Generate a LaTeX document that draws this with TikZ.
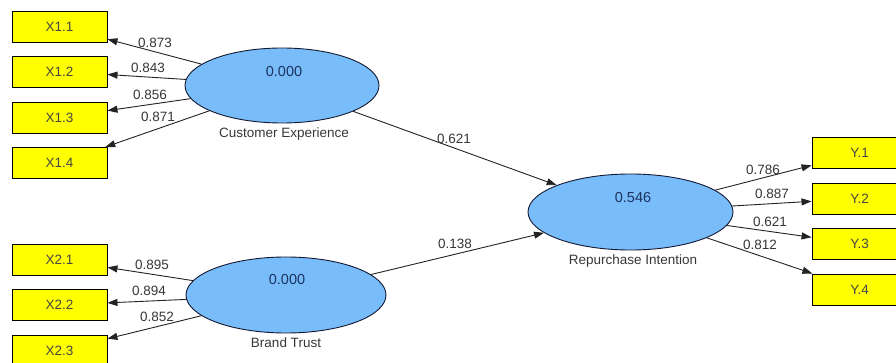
\documentclass[tikz,border=0pt]{standalone}
\usepackage{fontspec}
\setmainfont{Liberation Sans}
\usetikzlibrary{arrows.meta,shapes.geometric}
\definecolor{lvfill}{RGB}{120,189,250}
\definecolor{mvfill}{RGB}{255,255,0}
\definecolor{txtgray}{RGB}{55,55,55}
\definecolor{boxtxt}{RGB}{70,70,70}
\definecolor{valblue}{RGB}{30,50,95}
\definecolor{linegray}{RGB}{35,35,35}
\definecolor{lvborder}{RGB}{20,25,50}
\begin{document}
\begin{tikzpicture}[x=1pt,y=-1pt,
 mv/.style={draw=black, line width=0.9pt, fill=mvfill, minimum width=95pt, minimum height=31pt, inner sep=0pt, font=\fontsize{13.5}{15}\selectfont, text=boxtxt},
 lv/.style={ellipse, draw=lvborder, line width=0.9pt, fill=lvfill, inner sep=0pt},
 val/.style={font=\fontsize{14.5}{16}\selectfont, text=valblue, inner sep=0pt},
 lvname/.style={font=\fontsize{13.5}{15}\selectfont, text=txtgray, inner sep=0pt},
 ld/.style={font=\fontsize{13.5}{15}\selectfont, text=txtgray, inner sep=0pt},
 arr/.style={draw=linegray, line width=0.9pt, -{Triangle[length=10pt,width=7pt]}},
]
\useasboundingbox (0,0) rectangle (896,363);
\clip (0,0) rectangle (896,363);
\fill[white] (0,0) rectangle (896,363);

% indicator boxes
\node[mv] (x11) at (59.5,26.5) {X1.1};
\node[mv] (x12) at (59.5,71.5) {X1.2};
\node[mv] (x13) at (59.5,117.5) {X1.3};
\node[mv] (x14) at (59.5,163) {X1.4};
\node[mv] (x21) at (59.5,260) {X2.1};
\node[mv] (x22) at (59.5,305) {X2.2};
\node[mv] (x23) at (59.5,350.5) {X2.3};
\node[mv] (y1) at (859.5,153) {Y.1};
\node[mv] (y2) at (859.5,198.5) {Y.2};
\node[mv] (y3) at (859.5,244) {Y.3};
\node[mv] (y4) at (859.5,289.5) {Y.4};

% latent variables
\node[lv, minimum width=194pt, minimum height=75pt] (ce) at (282,85.5) {};
\node[lv, minimum width=200pt, minimum height=76pt] (bt) at (286,295) {};
\node[lv, minimum width=205pt, minimum height=76pt] (ri) at (630.5,212) {};

\node[val] (cev) at (284,72) {0.000};
\node[val] (btv) at (287,280) {0.000};
\node[val] (riv) at (633,198) {0.546};

\node[lvname] (cen) at (284,134) {Customer Experience};
\node[lvname] (btn) at (286,343) {Brand Trust};
\node[lvname] (rin) at (633,261) {Repurchase Intention};

% connectors
\draw[arr] (ce) -- (x11);
\draw[arr] (ce) -- (x12);
\draw[arr] (ce) -- (x13);
\draw[arr] (ce) -- (x14);
\draw[arr] (bt) -- (x21);
\draw[arr] (bt) -- (x22);
\draw[arr] (bt) -- (x23);
\draw[arr] (ce) -- (ri);
\draw[arr] (bt) -- (ri);
\draw[arr] (ri) -- (y1);
\draw[arr] (ri) -- (y2);
\draw[arr] (ri) -- (y3);
\draw[arr] (ri) -- (y4);

% loadings / path coefficients
\node[ld] (l11) at (155,43) {0.873};
\node[ld] (l12) at (148,68) {0.843};
\node[ld] (l13) at (150,95) {0.856};
\node[ld] (l14) at (158,117) {0.871};
\node[ld] (l21) at (152,265) {0.895};
\node[ld] (l22) at (149,291) {0.894};
\node[ld] (l23) at (157,317) {0.852};
\node[ld] (pce) at (454,139) {0.621};
\node[ld] (pbt) at (455,244) {0.138};
\node[ld] (ly1) at (763,170) {0.786};
\node[ld] (ly2) at (772,194) {0.887};
\node[ld] (ly3) at (770,222) {0.621};
\node[ld] (ly4) at (760,245) {0.812};
\end{tikzpicture}
\end{document}
